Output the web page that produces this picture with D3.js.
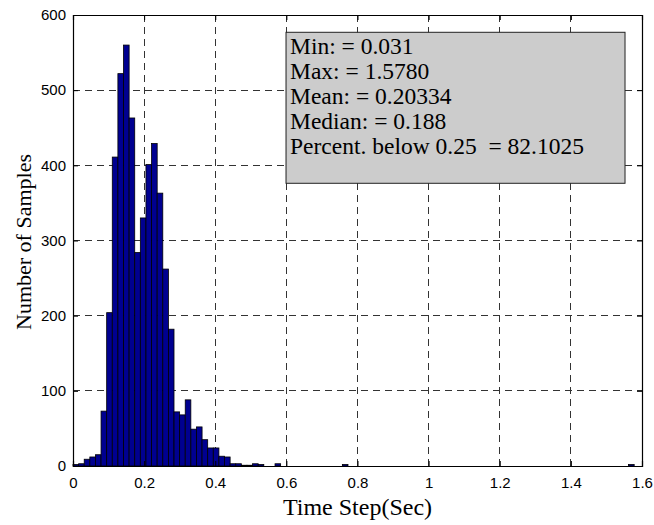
<!DOCTYPE html>
<html>
<head>
<meta charset="utf-8">
<script src="https://cdn.jsdelivr.net/npm/d3@7"></script>
<style>
  body { margin: 0; background: #fff; }
  svg { display: block; }
</style>
</head>
<body>
<svg id="chart" width="654" height="525"></svg>
<script>
"use strict";

// histogram: 100 bins starting at 0
const binWidth = 1.578 / 100;
const counts = [
  2, 3, 9, 12, 15, 73, 204, 411, 522, 560,
  463, 284, 330, 401, 429, 363, 262, 182, 72, 68,
  88, 49, 52, 35, 24, 24, 13, 12, 3, 3,
  1, 1, 3, 2, 0, 0, 3, 0, 0, 0,
  0, 0, 0, 0, 0, 0, 0, 0, 2, 0,
  0, 0, 0, 0, 0, 0, 0, 0, 0, 0,
  0, 0, 0, 0, 0, 0, 0, 0, 0, 0,
  0, 0, 0, 0, 0, 0, 0, 0, 0, 0,
  0, 0, 0, 0, 0, 0, 0, 0, 0, 0,
  0, 0, 0, 0, 0, 0, 0, 0, 0, 2
];
const xTicks = [0, 0.2, 0.4, 0.6, 0.8, 1, 1.2, 1.4, 1.6];
const yTicks = [0, 100, 200, 300, 400, 500, 600];
const statLines = [
  "Min: = 0.031",
  "Max: = 1.5780",
  "Mean: = 0.20334",
  "Median: = 0.188",
  "Percent. below 0.25  = 82.1025"
];

const margin = {top: 15, right: 12, bottom: 59, left: 73};
const svg = d3.select('#chart');
const W = +svg.attr('width'), H = +svg.attr('height');
const iw = W - margin.left - margin.right;
const ih = H - margin.top - margin.bottom;
const serif = 'Liberation Serif, Times New Roman, serif';

const x = d3.scaleLinear().domain([0, 1.6]).range([0, iw]);
const y = d3.scaleLinear().domain([0, 600]).range([ih, 0]);

const g = svg.append('g').attr('transform', `translate(${margin.left},${margin.top})`);

// dashed grid
const grid = g.append('g').attr('stroke', '#333').attr('stroke-width', 1)
  .attr('stroke-dasharray', '7,5').attr('shape-rendering', 'crispEdges');
grid.selectAll('line.v').data(xTicks.slice(1, -1)).enter().append('line')
  .attr('x1', d => x(d)).attr('x2', d => x(d)).attr('y1', 0).attr('y2', ih);
grid.selectAll('line.h').data(yTicks.slice(1, -1)).enter().append('line')
  .attr('y1', d => y(d)).attr('y2', d => y(d)).attr('x1', 0).attr('x2', iw);

// bars
const bins = counts.map((c, i) => ({x0: i * binWidth, x1: (i + 1) * binWidth, n: c}))
  .filter(d => d.n > 0);
g.append('g').selectAll('rect').data(bins).enter().append('rect')
  .attr('x', d => x(d.x0))
  .attr('y', d => y(d.n))
  .attr('width', d => x(d.x1) - x(d.x0))
  .attr('height', d => y(0) - y(d.n))
  .attr('fill', '#000090')
  .attr('stroke', '#000')
  .attr('stroke-width', 0.8);

// axes (ticks inward on all four sides)
const tickLen = 5;
const axisFont = a => a.attr('font-family', 'Liberation Sans, Arial, sans-serif').attr('font-size', 15);

const xAxis = g.append('g').attr('transform', `translate(0,${ih})`)
  .call(d3.axisBottom(x).tickValues(xTicks).tickFormat(d3.format('~g')).tickSize(-tickLen).tickPadding(tickLen + 6))
  .call(axisFont);
const yAxis = g.append('g')
  .call(d3.axisLeft(y).tickValues(yTicks).tickSize(-tickLen).tickPadding(tickLen + 2))
  .call(axisFont);
const xTop = g.append('g')
  .call(d3.axisTop(x).tickValues(xTicks).tickSize(-tickLen).tickFormat(''));
const yRight = g.append('g').attr('transform', `translate(${iw},0)`)
  .call(d3.axisRight(y).tickValues(yTicks).tickSize(-tickLen).tickFormat(''));

[xAxis, yAxis, xTop, yRight].forEach(a => {
  a.selectAll('.domain').attr('stroke', '#000').attr('stroke-width', 1.2);
  a.selectAll('.tick line').attr('stroke', '#000');
  a.selectAll('.tick text').attr('fill', '#000');
});

// stats box
const box = g.append('g').attr('transform', `translate(${x(0.599)},${y(577)})`);
box.append('rect')
  .attr('width', 339).attr('height', 151)
  .attr('fill', '#cccccc').attr('stroke', '#222').attr('stroke-width', 1);
box.selectAll('text').data(statLines).enter().append('text')
  .attr('x', 4)
  .attr('y', (d, i) => 22 + i * 25)
  .attr('font-family', serif)
  .attr('font-size', 23.5)
  .attr('fill', '#000')
  .style('white-space', 'pre')
  .text(d => d);

// axis labels
svg.append('text')
  .attr('x', margin.left + iw / 2).attr('y', 515)
  .attr('text-anchor', 'middle')
  .attr('font-family', serif)
  .attr('font-size', 24)
  .text('Time Step(Sec)');
svg.append('text')
  .attr('transform', `translate(31,242) rotate(-90)`)
  .attr('text-anchor', 'middle')
  .attr('font-family', serif)
  .attr('font-size', 22)
  .text('Number of Samples');
</script>
</body>
</html>
